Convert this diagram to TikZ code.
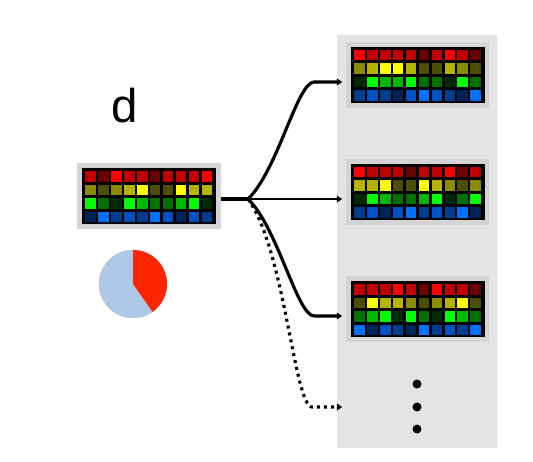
\documentclass[tikz,border=0pt]{standalone}
\usepackage{fontspec}
\setsansfont{Liberation Sans}
\usetikzlibrary{arrows.meta}

% cell shades, 1 = darkest, 5 = brightest
\definecolor{r1}{HTML}{6B0000}\definecolor{r2}{HTML}{980000}\definecolor{r3}{HTML}{C00000}\definecolor{r4}{HTML}{E00000}\definecolor{r5}{HTML}{FF0000}
\definecolor{y1}{HTML}{4E4E00}\definecolor{y2}{HTML}{8C8C00}\definecolor{y3}{HTML}{B4B400}\definecolor{y4}{HTML}{DADA00}\definecolor{y5}{HTML}{FFFF00}
\definecolor{g1}{HTML}{002A00}\definecolor{g2}{HTML}{007000}\definecolor{g3}{HTML}{00B800}\definecolor{g4}{HTML}{00D800}\definecolor{g5}{HTML}{00FF00}
\definecolor{b1}{HTML}{002358}\definecolor{b2}{HTML}{003D8E}\definecolor{b3}{HTML}{0052C4}\definecolor{b4}{HTML}{0062E4}\definecolor{b5}{HTML}{0070FF}
\definecolor{panel}{HTML}{E4E4E4}
\definecolor{framegrey}{HTML}{D4D4D4}
\definecolor{pieblue}{HTML}{AEC8E8}
\definecolor{piered}{HTML}{FF2400}

% one row of cells: map, row, hue, levels
\newcommand\hmrow[4]{%
 \foreach \lv [count=\i from 0] in {#4}
 \fill[#3\lv] ([shift={(-63.3+12.9*\i,-25+13.5*#2)}]#1.center) rectangle ++(10.5,10.5);}
% a whole map: name, centre, red, yellow, green, blue
\newcommand\heatmap[6]{%
 \node[mapframe] (#1) at (#2) {};
 \fill[black] ([shift={(-67,-28)}]#1.center) rectangle ([shift={(67,28)}]#1.center);
 \hmrow{#1}{0}{r}{#3}\hmrow{#1}{1}{y}{#4}\hmrow{#1}{2}{g}{#5}\hmrow{#1}{3}{b}{#6}}

\begin{document}
\begin{tikzpicture}[x=0.02cm, y=-0.02cm, font=\sffamily,
 mapframe/.style={fill=framegrey, minimum width=2.88cm, minimum height=1.32cm, inner sep=0pt},
 wire/.style={line width=1.8pt},
 tip/.style={-{Triangle[length=3pt,width=3.8pt]}},
 dot/.style={circle, fill=black, minimum size=0.18cm, inner sep=0pt}]
 \useasboundingbox (0,0) rectangle (533,462);
 \fill[panel] (337,35) rectangle (497,448);

 \node[font=\fontsize{27}{30}\sffamily, anchor=base] (lbl) at (124.5,123) {d};

 \heatmap{m0}{148.7,196.2}{3,1,5,3,3,1,3,3,3,5}{2,1,2,3,5,1,1,5,3,3}{5,2,1,5,3,2,2,3,5,1}{1,5,2,3,2,5,3,1,3,2}
 \heatmap{m1}{417.5,75}{5,3,3,3,3,1,3,5,3,1}{2,3,5,5,3,1,1,3,2,1}{1,5,3,3,5,2,2,1,5,2}{2,3,2,1,3,5,3,2,1,5}
 \heatmap{m2}{417.5,192}{5,3,3,3,1,3,3,5,1,3}{3,3,5,1,1,5,3,2,1,2}{1,5,3,2,2,3,5,1,2,5}{2,3,1,3,5,2,3,2,5,1}
 \heatmap{m3}{417.5,309}{3,3,3,5,3,1,5,3,3,1}{1,5,3,3,2,1,2,3,5,1}{2,3,5,1,5,2,1,5,3,2}{5,1,3,2,1,5,2,3,2,5}

 % pie
 \coordinate (pie) at (133,284);
 \fill[pieblue, draw=gray!45, line width=0.3pt] (pie) circle (0.68cm);
 \fill[piered] (pie) -- ++(90:0.68cm) arc[start angle=90, end angle=-55, radius=0.68cm] -- cycle;

 \foreach \n/\y in {d1/384,d2/407,d3/429}
 \node[dot] (\n) at (417,\y) {};

 \coordinate (split) at (248,199);
 \coordinate (t1) at ([shift={(-3,7)}]m1.west);
 \coordinate (t2) at ([shift={(-3,7)}]m2.west);
 \coordinate (t3) at ([shift={(-3,7)}]m3.west);
 \coordinate (t4) at (t1 |- d2);

 \draw[wire] (m0.east |- split) -- (split);
 \draw[wire, tip] (split) .. controls +(30,-29) and +(-17,0) .. ([shift={(-28,0)}]t1) -- (t1);
 \draw[line width=1.4pt, tip] (split) -- (t2);
 \draw[wire, tip] (split) .. controls +(30,29) and +(-17,0) .. ([shift={(-28,0)}]t3) -- (t3);
 \draw[wire, tip, dash pattern=on 1.7pt off 2.3pt] (split) .. controls +(37,51) and +(-18,0) .. ([shift={(-30,0)}]t4) -- (t4);
\end{tikzpicture}
\end{document}
